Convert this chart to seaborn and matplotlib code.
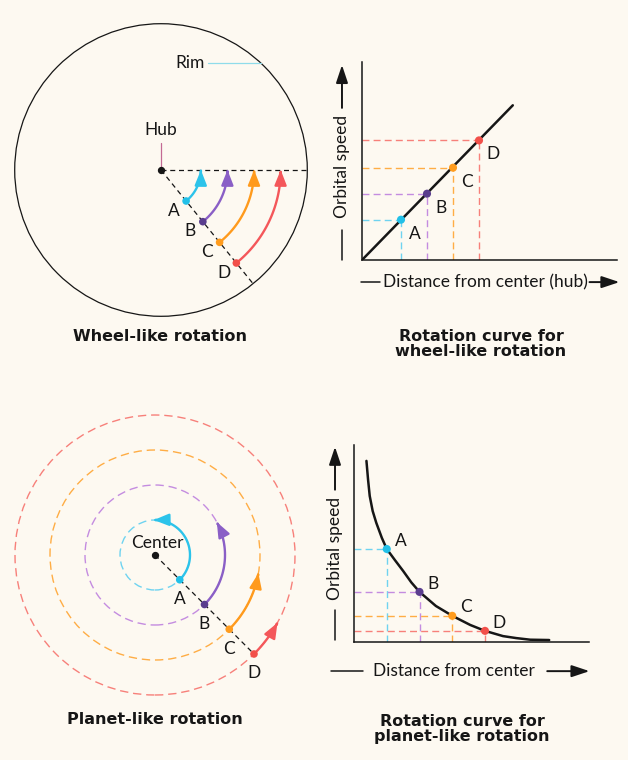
import numpy as np
import matplotlib.pyplot as plt
import seaborn as sns
from matplotlib.patches import Circle, FancyArrowPatch
from matplotlib.path import Path

# ---- data ----
labels = ["A", "B", "C", "D"]

# wheel-like rotation: distance from hub and orbital speed (same units)
wheel_dist = [1.5, 2.5, 3.5, 4.5]
wheel_speed = [1.55, 2.55, 3.55, 4.6]
wheel_line_x = [0, 5.8]
wheel_line_y = [0, 5.95]
rim_radius = 5.5
wheel_start_deg = -51      # where the points sit
wheel_end_deg = 0          # every point turns through the same angle

# planet-like rotation
planet_dist = [1, 2, 3, 4]
planet_speed = [2.84, 1.53, 0.80, 0.34]
planet_end_deg = [92, 28, -10, -29]   # where each arrow stops
planet_start_deg = -45
planet_curve_x = [0.38, 0.43, 0.48, 0.57, 0.68, 0.85, 1.0, 1.25, 1.5, 1.75,
                  2.0, 2.5, 3.0, 3.55, 4.0, 4.55, 4.95, 5.38, 5.96]
planet_curve_y = [5.53, 4.95, 4.46, 4.0, 3.64, 3.18, 2.84, 2.5, 2.17, 1.82,
                  1.53, 1.10, 0.80, 0.52, 0.34, 0.18, 0.12, 0.07, 0.06]

# ---- style ----
bg = "#fdf9f1"
point_colors = ["#22c0e8", "#5a3d8e", "#ff9c1e", "#f2504a"]
arc_colors = ["#2cc3ea", "#8a5fc6", "#ff9a1c", "#f4575a"]
guide_colors = ["#6fd3f0", "#c48ce0", "#ffad45", "#f7807a"]
ink = "#161616"
fs = 12.5

sns.set_theme(style="white", rc={"figure.facecolor": bg, "axes.facecolor": bg})
plt.rcParams["font.family"] = ["Lato", "DejaVu Sans"]

W, H = 628, 760
fig = plt.figure(figsize=(W / 100, H / 100), dpi=100)


def px_axes(left, top, width, height):
    ax = fig.add_axes([left / W, 1 - (top + height) / H, width / W, height / H])
    ax.patch.set_alpha(0)
    return ax


def diagram_axes(left, top, width, height, ox, oy, scale):
    ax = px_axes(left, top, width, height)
    ax.set_xlim((left - ox) / scale, (left + width - ox) / scale)
    ax.set_ylim((oy - top - height) / scale, (oy - top) / scale)
    ax.set_axis_off()
    return ax


def arc_arrow(ax, r, a0, a1, color, lw=1.7):
    t = np.radians(np.linspace(a0, a1, 60))
    verts = np.column_stack([r * np.cos(t), r * np.sin(t)])
    ax.add_patch(FancyArrowPatch(path=Path(verts), arrowstyle="-|>,head_length=0.75,head_width=0.3",
                                 mutation_scale=12, color=color, lw=lw, shrinkA=0, shrinkB=0,
                                 zorder=3))


def axis_labels(ax, ylab_x, yline, ytext, yarrow, ylabel, xlab_y, xline, xtext, xarrow, xlabel):
    kw = dict(color=ink, lw=1.1, clip_on=False)
    ax.plot([ylab_x, ylab_x], yline, **kw)
    ax.text(ylab_x, ytext, ylabel, rotation=90, ha="center", va="center", fontsize=fs, color=ink)
    ax.annotate("", xy=(ylab_x, yarrow[1]), xytext=(ylab_x, yarrow[0]), annotation_clip=False,
                arrowprops=dict(arrowstyle="-|>,head_length=0.9,head_width=0.3", mutation_scale=12,
                                color=ink, lw=1.4, shrinkA=0, shrinkB=0))
    ax.plot(xline, [xlab_y, xlab_y], **kw)
    ax.text(xtext, xlab_y, xlabel, ha="center", va="center", fontsize=fs, color=ink)
    ax.annotate("", xy=(xarrow[1], xlab_y), xytext=(xarrow[0], xlab_y), annotation_clip=False,
                arrowprops=dict(arrowstyle="-|>,head_length=0.9,head_width=0.3", mutation_scale=12,
                                color=ink, lw=1.4, shrinkA=0, shrinkB=0))


# ---------------- wheel-like rotation ----------------
ax1 = diagram_axes(0, 0, 314, 322, 161, 170, 26.6)
ax1.add_patch(Circle((0, 0), rim_radius, fill=False, ec=ink, lw=0.9))
ax1.plot([0, rim_radius], [0, 0], color=ink, lw=0.9, dashes=(4, 3))
ang = np.radians(wheel_start_deg)
ax1.plot([0, rim_radius * np.cos(ang)], [0, rim_radius * np.sin(ang)], color=ink, lw=0.9, dashes=(4, 3))
ax1.scatter([0], [0], s=18, color=ink, zorder=4)
ax1.plot([0, 0], [0.1, 1.0], color="#c46a94", lw=0.9)
ax1.text(0, 1.5, "Hub", ha="center", va="center", fontsize=fs, color=ink)
rim_y = 4.02
ax1.plot([1.77, np.sqrt(rim_radius ** 2 - rim_y ** 2)], [rim_y, rim_y], color="#8fdcea", lw=0.9)
ax1.text(1.09, rim_y, "Rim", ha="center", va="center", fontsize=fs, color=ink)
for r, lab, pc, ac in zip(wheel_dist, labels, point_colors, arc_colors):
    arc_arrow(ax1, r, wheel_start_deg, wheel_end_deg, ac)
    px, py = r * np.cos(ang), r * np.sin(ang)
    ax1.scatter([px], [py], s=30, color=pc, zorder=4, edgecolor="none")
    ax1.annotate(lab, (px, py), xytext=(-9, -7), textcoords="offset points",
                 ha="center", va="center", fontsize=fs, color=ink)

# ---------------- wheel rotation curve ----------------
ax2 = px_axes(362, 62, 255, 198)
ax2.set_xlim(0, 255 / 26)
ax2.set_ylim(0, 198 / 26)
sns.lineplot(x=wheel_line_x, y=wheel_line_y, color=ink, lw=1.8, ax=ax2, zorder=3)
for x, y, gc in zip(wheel_dist, wheel_speed, guide_colors):
    ax2.plot([0, x], [y, y], color=gc, lw=1, dashes=(5, 3))
    ax2.plot([x, x], [0, y], color=gc, lw=1, dashes=(5, 3))
sns.scatterplot(x=wheel_dist, y=wheel_speed, hue=labels, palette=point_colors, s=34,
                edgecolor="none", legend=False, ax=ax2, zorder=4)
for x, y, lab in zip(wheel_dist, wheel_speed, labels):
    ax2.annotate(lab, (x, y), xytext=(10, -10), textcoords="offset points",
                 ha="center", va="center", fontsize=fs, color=ink)
sns.despine(ax=ax2)
ax2.set_xticks([])
ax2.set_yticks([])
for s in ["left", "bottom"]:
    ax2.spines[s].set_color(ink)
    ax2.spines[s].set_linewidth(1.1)
axis_labels(ax2, -0.77, [0, 1.15], 3.58, [5.85, 7.5], "Orbital speed",
            -0.85, [-0.04, 0.7], 4.73, [8.75, 9.9], "Distance from center (hub)")

# ---------------- planet-like rotation ----------------
ax3 = diagram_axes(0, 380, 314, 322, 155, 555, 35)
pang = np.radians(planet_start_deg)
ax3.plot([0, planet_dist[-1] * np.cos(pang)], [0, planet_dist[-1] * np.sin(pang)],
         color=ink, lw=0.9, dashes=(4, 3))
for r, lab, pc, ac, gc, a1 in zip(planet_dist, labels, point_colors, arc_colors, guide_colors,
                                  planet_end_deg):
    ax3.add_patch(Circle((0, 0), r, fill=False, ec=gc, lw=1, linestyle=(0, (6, 3.5))))
    arc_arrow(ax3, r, planet_start_deg, a1, ac)
    px, py = r * np.cos(pang), r * np.sin(pang)
    ax3.scatter([px], [py], s=30, color=pc, zorder=4, edgecolor="none")
    ax3.annotate(lab, (px, py), xytext=(0, -14), textcoords="offset points",
                 ha="center", va="center", fontsize=fs, color=ink)
ax3.scatter([0], [0], s=18, color=ink, zorder=4)
ax3.text(0.06, 0.34, "Center", ha="center", va="center", fontsize=fs, color=ink)

# ---------------- planet rotation curve ----------------
ax4 = px_axes(354, 445, 235, 197)
ax4.set_xlim(0, 235 / 32.75)
ax4.set_ylim(0, 197 / 32.75)
sns.lineplot(x=planet_curve_x, y=planet_curve_y, color=ink, lw=1.8, ax=ax4, zorder=3, sort=False)
for x, y, gc in zip(planet_dist, planet_speed, guide_colors):
    ax4.plot([0, x], [y, y], color=gc, lw=1, dashes=(5, 3))
    ax4.plot([x, x], [0, y], color=gc, lw=1, dashes=(5, 3))
sns.scatterplot(x=planet_dist, y=planet_speed, hue=labels, palette=point_colors, s=34,
                edgecolor="none", legend=False, ax=ax4, zorder=4)
for x, y, lab in zip(planet_dist, planet_speed, labels):
    ax4.annotate(lab, (x, y), xytext=(10, 6), textcoords="offset points",
                 ha="center", va="center", fontsize=fs, color=ink)
sns.despine(ax=ax4)
ax4.set_xticks([])
ax4.set_yticks([])
for s in ["left", "bottom"]:
    ax4.spines[s].set_color(ink)
    ax4.spines[s].set_linewidth(1.1)
axis_labels(ax4, -0.58, [0.06, 0.98], 2.87, [4.65, 5.96], "Orbital speed",
            -0.89, [-0.7, 0.28], 3.06, [5.9, 7.19], "Distance from center")

# ---------------- titles ----------------
tkw = dict(ha="center", va="center", fontsize=11.5, fontweight="bold", color=ink,
           linespacing=1.0, family=["DejaVu Sans"])
fig.text(160 / W, 1 - 336 / H, "Wheel-like rotation", **tkw)
fig.text(481 / W, 1 - 344 / H, "Rotation curve for\nwheel-like rotation", **tkw)
fig.text(155 / W, 1 - 719 / H, "Planet-like rotation", **tkw)
fig.text(462 / W, 1 - 729 / H, "Rotation curve for\nplanet-like rotation", **tkw)

fig.savefig("out.png", dpi=100, facecolor=bg)
